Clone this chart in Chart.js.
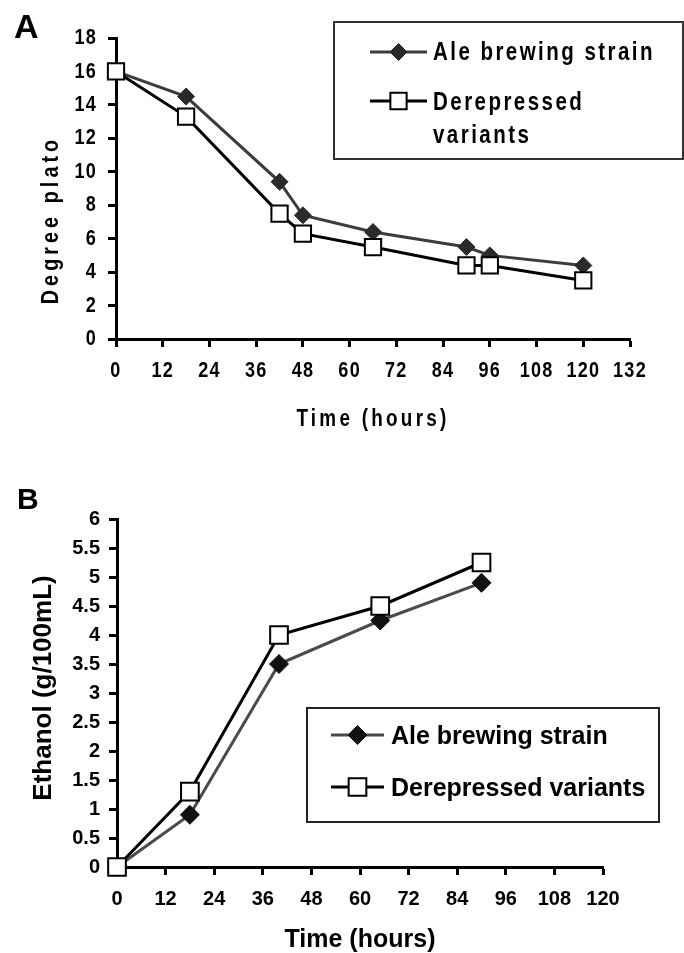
<!DOCTYPE html>
<html lang="en">
<head>
  <meta charset="UTF-8">
  <title>Fermentation profiles</title>
  <script src="https://cdn.jsdelivr.net/npm/chart.js"></script>
  <style>
    * { margin: 0; padding: 0; box-sizing: border-box; }
    body { width: 684px; height: 953px; background: #fff; position: relative; overflow: hidden; }
    canvas { position: absolute; left: 0; }
    #plato { top: 0; }
    #ethanol { top: 440px; }
  </style>
</head>
<body>
  <canvas id="plato" width="684" height="440"></canvas>
  <canvas id="ethanol" width="684" height="513"></canvas>

  <script>
    // Panel A: wort gravity (degree plato) during fermentation
    const hoursA = [0, 18, 42, 48, 66, 90, 96, 120];
    const platoAle = [16, 14.5, 9.4, 7.4, 6.4, 5.5, 5.0, 4.4];
    const platoDerepressed = [16, 13.3, 7.5, 6.3, 5.5, 4.4, 4.4, 3.5];

    // Panel B: ethanol produced (g/100mL)
    const hoursB = [0, 18, 40, 65, 90];
    const ethanolAle = [0, 0.9, 3.5, 4.25, 4.9];
    const ethanolDerepressed = [0, 1.3, 4.0, 4.5, 5.25];

    const seriesNames = ['Ale brewing strain', 'Derepressed variants'];

    const SANS = "'Liberation Sans', Arial, sans-serif";
    const plainFill = CanvasRenderingContext2D.prototype.fillText;

    function points(xs, ys) {
      return xs.map((x, i) => ({ x: x, y: ys[i] }));
    }

    // no narrow face is installed, so panel A squeezes the bold sans sideways
    function squeezeText(ctx, sx) {
      if (ctx._squeezed) return;
      ctx._squeezed = true;
      ctx.fillText = function (text, x, y) {
        this.save();
        this.translate(x, y);
        this.scale(sx, 1);
        plainFill.call(this, text, 0, 0);
        this.restore();
      };
    }

    // axis titles, panel letters and the boxed legend are drawn here
    const figureText = {
      id: 'figureText',
      beforeDraw(chart, args, opts) {
        if (opts.squeeze) squeezeText(chart.ctx, opts.squeeze);
        chart.ctx.letterSpacing = opts.tickSpacing || '0px';
      },
      afterDraw(chart, args, opts) {
        const ctx = chart.ctx;
        ctx.save();
        ctx.fillStyle = '#000';
        (opts.texts || []).forEach(t => {
          ctx.save();
          ctx.font = t.font;
          ctx.letterSpacing = t.spacing || '0px';
          ctx.textAlign = t.align || 'center';
          ctx.textBaseline = t.baseline || 'middle';
          ctx.translate(t.x, t.y);
          if (t.rotate) ctx.rotate(t.rotate);
          if (t.plain) plainFill.call(ctx, t.text, 0, 0);
          else ctx.fillText(t.text, 0, 0);
          ctx.restore();
        });

        const lg = opts.legend;
        if (lg) {
          ctx.lineWidth = lg.borderWidth;
          ctx.strokeStyle = lg.borderColor;
          ctx.strokeRect(lg.x, lg.y, lg.w, lg.h);
          lg.rows.forEach(r => {
            const ds = chart.data.datasets[r.dataset];
            ctx.strokeStyle = ds.borderColor;
            ctx.lineWidth = ds.borderWidth;
            ctx.beginPath();
            ctx.moveTo(lg.symX0, r.y);
            ctx.lineTo(lg.symX1, r.y);
            ctx.stroke();
            ctx.fillStyle = ds.pointBackgroundColor;
            ctx.strokeStyle = ds.pointBorderColor;
            ctx.lineWidth = ds.pointBorderWidth;
            Chart.helpers.drawPoint(ctx, {
              pointStyle: ds.pointStyle,
              radius: ds.pointRadius,
              borderWidth: ds.pointBorderWidth,
              rotation: 0
            }, (lg.symX0 + lg.symX1) / 2, r.y);
            ctx.fillStyle = '#000';
            ctx.font = lg.font;
            ctx.letterSpacing = lg.spacing || '0px';
            ctx.textAlign = 'left';
            ctx.textBaseline = 'alphabetic';
            const lines = r.wrap ? ds.label.split(' ') : [ds.label];
            lines.forEach((line, i) => ctx.fillText(line, lg.textX, r.baselines[i]));
          });
        }
        ctx.restore();
      }
    };

    function axes(xMax, xStep, yMax, yStep, tickFont, tickPad, yWidth, xHeight) {
      const grid = {
        drawOnChartArea: false,
        drawTicks: true,
        tickLength: 8,
        tickWidth: 3,
        tickColor: '#000'
      };
      const border = { display: true, width: 3, color: '#000' };
      return {
        x: {
          type: 'linear',
          min: 0,
          max: xMax,
          grid: grid,
          border: border,
          ticks: { stepSize: xStep, autoSkip: false, maxRotation: 0, color: '#000', font: tickFont, padding: tickPad.x },
          afterFit: s => { s.height = xHeight; }
        },
        y: {
          min: 0,
          max: yMax,
          grid: grid,
          border: border,
          ticks: {
            stepSize: yStep, autoSkip: false, color: '#000', font: tickFont, padding: tickPad.y,
            callback: v => String(v)
          },
          afterFit: s => { s.width = yWidth; }
        }
      };
    }

    // Panel A
    new Chart(document.getElementById('plato').getContext('2d'), {
      type: 'line',
      data: {
        datasets: [{
          label: seriesNames[0],
          data: points(hoursA, platoAle),
          borderColor: '#3c3c3c',
          borderWidth: 3,
          pointStyle: 'rectRot',
          pointRadius: 8.5,
          pointBackgroundColor: '#2a2a2a',
          pointBorderColor: '#2a2a2a',
          pointBorderWidth: 1,
          order: 1,
          clip: false
        }, {
          label: seriesNames[1],
          data: points(hoursA, platoDerepressed),
          borderColor: '#000',
          borderWidth: 3,
          pointStyle: 'rect',
          pointRadius: 11.5,
          pointBackgroundColor: '#fff',
          pointBorderColor: '#000',
          pointBorderWidth: 2,
          order: 0,
          clip: false
        }]
      },
      options: {
        responsive: false,
        animation: false,
        layout: { padding: { left: 0, top: 38, right: 54, bottom: 0 } },
        scales: axes(132, 12, 18, 2, { family: SANS, size: 22, weight: 'bold' }, { x: 11, y: 11 }, 116, 101),
        plugins: {
          legend: { display: false },
          tooltip: { enabled: false },
          figureText: {
            squeeze: 0.82,
            tickSpacing: '1.5px',
            texts: [
              { text: 'A', font: 'bold 34px ' + SANS, x: 14, y: 38, align: 'left', baseline: 'alphabetic', plain: true },
              { text: 'Degree plato', font: 'bold 24px ' + SANS, spacing: '5px', x: 51, y: 220, rotate: -Math.PI / 2 },
              { text: 'Time (hours)', font: 'bold 23px ' + SANS, spacing: '4px', x: 373, y: 420 }
            ],
            legend: {
              x: 334, y: 22, w: 349, h: 137,
              borderWidth: 2, borderColor: '#333',
              symX0: 370, symX1: 427, textX: 433,
              font: 'bold 25px ' + SANS, spacing: '3px',
              rows: [
                { dataset: 0, y: 52, baselines: [60] },
                { dataset: 1, y: 101, wrap: true, baselines: [110, 143] }
              ]
            }
          }
        }
      },
      plugins: [figureText]
    });

    // Panel B
    new Chart(document.getElementById('ethanol').getContext('2d'), {
      type: 'line',
      data: {
        datasets: [{
          label: seriesNames[0],
          data: points(hoursB, ethanolAle),
          borderColor: '#4a4a4a',
          borderWidth: 3,
          pointStyle: 'rectRot',
          pointRadius: 9.5,
          pointBackgroundColor: '#111',
          pointBorderColor: '#111',
          pointBorderWidth: 1,
          order: 1,
          clip: false
        }, {
          label: seriesNames[1],
          data: points(hoursB, ethanolDerepressed),
          borderColor: '#000',
          borderWidth: 3,
          pointStyle: 'rect',
          pointRadius: 12.5,
          pointBackgroundColor: '#fff',
          pointBorderColor: '#000',
          pointBorderWidth: 2,
          order: 0,
          clip: false
        }]
      },
      options: {
        responsive: false,
        animation: false,
        layout: { padding: { left: 0, top: 79, right: 81, bottom: 0 } },
        scales: axes(120, 12, 6, 0.5, { family: SANS, size: 20, weight: 'bold' }, { x: 12, y: 9 }, 117, 86),
        plugins: {
          legend: { display: false },
          tooltip: { enabled: false },
          figureText: {
            texts: [
              { text: 'B', font: 'bold 30px ' + SANS, x: 17, y: 69, align: 'left', baseline: 'alphabetic' },
              { text: 'Ethanol (g/100mL)', font: 'bold 26px ' + SANS, x: 44, y: 248, rotate: -Math.PI / 2 },
              { text: 'Time (hours)', font: 'bold 25px ' + SANS, x: 360, y: 500 }
            ],
            legend: {
              x: 307, y: 268, w: 352, h: 114,
              borderWidth: 2, borderColor: '#222',
              symX0: 331, symX1: 384, textX: 391,
              font: 'bold 25px ' + SANS,
              rows: [
                { dataset: 0, y: 295, baselines: [304] },
                { dataset: 1, y: 347, baselines: [356] }
              ]
            }
          }
        }
      },
      plugins: [figureText]
    });
  </script>
</body>
</html>
